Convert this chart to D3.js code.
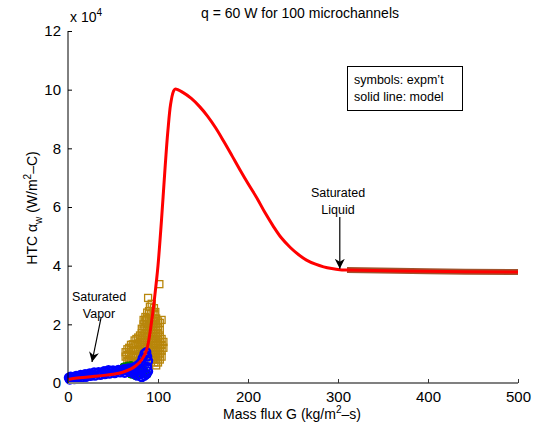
<!DOCTYPE html>
<html>
<head>
<meta charset="utf-8">
<script src="https://cdn.jsdelivr.net/npm/d3@7"></script>
<style>
body { margin: 0; background: #fff; }
svg { font-family: "Liberation Sans", Arial, sans-serif; }
</style>
</head>
<body>
<div id="chart"></div>
<script>
var width = 535,
    height = 435;

// model curve, G (kg/m2-s) and HTC (x 1e4 W/m2-C)
var modelG = [0, 10, 20, 30, 40, 50, 60, 70, 75, 80, 85, 88, 90, 92, 94, 96, 98, 100, 104, 108, 111, 114, 117, 119, 128, 137, 146, 155, 164, 173, 182, 191, 200, 210, 219, 228, 237, 247, 256, 265, 275, 284, 293, 302, 310, 400, 500];
var modelH = [0.12, 0.17, 0.2, 0.23, 0.26, 0.3, 0.36, 0.48, 0.58, 0.72, 0.95, 1.2, 1.5, 1.9, 2.35, 2.85, 3.4, 4.0, 5.6, 7.4, 8.6, 9.5, 9.93, 10.02, 9.9, 9.7, 9.43, 9.1, 8.7, 8.24, 7.76, 7.27, 6.8, 6.3, 5.8, 5.35, 4.95, 4.62, 4.38, 4.19, 4.05, 3.96, 3.9, 3.86, 3.85, 3.81, 3.78];

// saturated liquid experiments (dense, drawn as a band)
var liquidG = [310, 400, 500];
var liquidH = [3.85, 3.81, 3.78];

var blueG = [1, 2, 3, 4, 6, 7, 9, 10, 12, 14, 15, 17, 19, 20, 22, 24, 25, 27, 29, 30, 32, 34, 36, 38, 40, 41, 43, 45, 46, 48, 50, 52, 54, 56, 58, 60, 62, 63, 65, 67, 68, 70, 72, 73, 75, 76, 77, 78, 79, 80, 81, 82, 82, 83, 85, 85, 87, 87, 88, 88, 89, 89];
var blueH = [0.18, 0.12, 0.22, 0.15, 0.2, 0.13, 0.24, 0.17, 0.22, 0.28, 0.18, 0.25, 0.3, 0.21, 0.27, 0.33, 0.24, 0.3, 0.36, 0.25, 0.32, 0.37, 0.28, 0.35, 0.4, 0.3, 0.38, 0.44, 0.32, 0.4, 0.43, 0.34, 0.41, 0.45, 0.36, 0.42, 0.47, 0.35, 0.44, 0.5, 0.38, 0.46, 0.52, 0.32, 0.55, 0.4, 0.25, 0.62, 0.45, 0.3, 0.7, 0.5, 0.2, 0.85, 1.0, 0.25, 1.05, 0.3, 0.9, 0.55, 0.75, 0.4];

var greenG = [62, 64, 66, 68, 70, 72, 74, 76, 78, 80, 82, 84, 86, 88, 70, 75];
var greenH = [0.55, 0.5, 0.58, 0.45, 0.6, 0.4, 0.55, 0.35, 0.48, 0.4, 0.3, 0.45, 0.35, 0.3, 0.3, 0.25];

// subcooled experiments, one list of HTC readings per G column
var brownCols = [64, 66, 68, 70, 72, 74, 76, 78, 80, 82, 84, 86, 88, 90, 92, 94, 96, 98, 100, 102, 104, 106];
var brownRows = [
    [0.9, 1.05],
    [0.75, 0.95, 1.15],
    [0.62, 0.8, 1.0, 1.2],
    [0.55, 0.77, 0.95, 1.13, 1.3],
    [0.5, 0.7, 0.92, 1.1, 1.32],
    [0.5, 0.72, 0.9, 1.12, 1.3, 1.45],
    [0.52, 0.7, 0.9, 1.1, 1.32, 1.5],
    [0.55, 0.75, 0.97, 1.15, 1.35, 1.55],
    [0.6, 0.8, 1.0, 1.22, 1.4, 1.62],
    [0.7, 0.92, 1.1, 1.3, 1.52, 1.7, 1.85],
    [0.8, 1.0, 1.22, 1.4, 1.6, 1.82, 2.0, 2.15],
    [0.9, 1.1, 1.3, 1.52, 1.7, 1.9, 2.1, 2.25],
    [1.0, 1.2, 1.42, 1.6, 1.8, 2.02, 2.2, 2.4],
    [1.0, 1.22, 1.4, 1.6, 1.82, 2.0, 2.2, 2.45],
    [0.9, 1.1, 1.3, 1.5, 1.72, 1.9, 2.1, 2.35],
    [0.8, 1.0, 1.2, 1.42, 1.6, 1.8, 2.02, 2.2, 2.4],
    [0.7, 0.9, 1.12, 1.3, 1.5, 1.7, 1.92, 2.1, 2.35],
    [0.6, 0.8, 1.0, 1.2, 1.42, 1.6, 1.8, 2.0, 2.2],
    [0.7, 0.9, 1.1, 1.32, 1.5, 1.7, 1.9, 2.1],
    [0.8, 1.0, 1.2, 1.4, 1.62, 1.8, 2.05],
    [0.9, 1.1, 1.3, 1.5],
    [1.2, 1.4]
];
var brownOutG = [101.5, 89, 91, 97, 104, 87, 93, 95.5];
var brownOutH = [3.37, 2.9, 2.6, 2.42, 2.15, 2.15, 2.7, 2.55];

var xTicks = [0, 100, 200, 300, 400, 500],
    yTicks = [0, 2, 4, 6, 8, 10, 12];

var margin = {top: 31, right: 17, bottom: 52, left: 68};

var svg = d3.select("#chart").append("svg")
    .attr("width", width)
    .attr("height", height);

var x = d3.scaleLinear().domain([0, 500]).range([margin.left, width - margin.right]);
var y = d3.scaleLinear().domain([0, 12]).range([height - margin.bottom, margin.top]);

function zip(a, b) { return a.map(function(d, i) { return [d, b[i]]; }); }

var line = d3.line()
    .x(function(d) { return x(d[0]); })
    .y(function(d) { return y(d[1]); })
    .curve(d3.curveCatmullRom.alpha(0.5));

svg.append("defs").append("marker")
    .attr("id", "head")
    .attr("viewBox", "0 0 10 10")
    .attr("refX", 10).attr("refY", 5)
    .attr("markerWidth", 10).attr("markerHeight", 10)
    .attr("markerUnits", "userSpaceOnUse")
    .attr("orient", "auto")
  .append("path")
    .attr("d", "M0,0 L10,5 L0,10 L3,5 Z")
    .attr("fill", "#000");

// experiments
var brownPts = [];
brownCols.forEach(function(g, i) {
    brownRows[i].forEach(function(h) { brownPts.push([g, h]); });
});
brownPts = brownPts.concat(zip(brownOutG, brownOutH));

svg.append("g").selectAll("rect")
    .data(brownPts)
    .enter().append("rect")
    .attr("x", function(d) { return x(d[0]) - 3.5; })
    .attr("y", function(d) { return y(d[1]) - 3.5; })
    .attr("width", 7).attr("height", 7)
    .attr("fill", "none")
    .attr("stroke", "#b8860b")
    .attr("stroke-width", 1.3);

svg.append("g").selectAll("circle")
    .data(zip(greenG, greenH))
    .enter().append("circle")
    .attr("cx", function(d) { return x(d[0]); })
    .attr("cy", function(d) { return y(d[1]); })
    .attr("r", 4)
    .attr("fill", "#008000")
    .attr("stroke", "#008000");

svg.append("g").selectAll("circle")
    .data(zip(blueG, blueH))
    .enter().append("circle")
    .attr("cx", function(d) { return x(d[0]); })
    .attr("cy", function(d) { return y(d[1]); })
    .attr("r", 4)
    .attr("fill", "none")
    .attr("stroke", "#0000ff")
    .attr("stroke-width", 2.3);

svg.append("path")
    .datum(zip(liquidG, liquidH))
    .attr("d", line)
    .attr("fill", "none")
    .attr("stroke", "#a0522d")
    .attr("stroke-width", 6);

// model
svg.append("path")
    .datum(zip(modelG, modelH))
    .attr("d", line)
    .attr("fill", "none")
    .attr("stroke", "#ff0000")
    .attr("stroke-width", 3);

// axes
var yAxis = svg.append("g")
    .attr("transform", "translate(" + margin.left + ",0)")
    .call(d3.axisLeft(y).tickValues(yTicks).tickSize(-4).tickPadding(7));
yAxis.select(".domain").attr("d", "M0," + y(12) + "V" + y(0)).attr("stroke", "#000");
yAxis.selectAll("text").attr("font-size", 15).attr("font-family", "Liberation Sans, Arial, sans-serif").attr("fill", "#000");

var xAxis = svg.append("g")
    .attr("transform", "translate(0," + y(0) + ")")
    .call(d3.axisBottom(x).tickValues(xTicks).tickSize(-4).tickPadding(8));
xAxis.select(".domain").attr("d", "M" + x(0) + ",0H" + x(500)).attr("stroke", "#808080").attr("stroke-width", 2);
xAxis.selectAll("line").attr("stroke", "#333");
xAxis.selectAll("text").attr("font-size", 15).attr("font-family", "Liberation Sans, Arial, sans-serif").attr("fill", "#000");

// exponent
var ex = svg.append("text").attr("x", 70).attr("y", 22).attr("font-size", 14);
ex.append("tspan").text("x 10");
ex.append("tspan").attr("dy", -6).attr("font-size", 10).text("4");

// title
svg.append("text")
    .attr("x", 300).attr("y", 18)
    .attr("text-anchor", "middle")
    .attr("font-size", 14)
    .text("q = 60 W for 100 microchannels");

// axis labels
var xl = svg.append("text")
    .attr("x", 292).attr("y", 419)
    .attr("text-anchor", "middle")
    .attr("font-size", 14);
xl.append("tspan").text("Mass flux G (kg/m");
xl.append("tspan").attr("dy", -6).attr("font-size", 10).text("2");
xl.append("tspan").attr("dy", 6).text("\u2013s)");

var yl = svg.append("text")
    .attr("transform", "translate(37,208) rotate(-90)")
    .attr("text-anchor", "middle")
    .attr("font-size", 14);
yl.append("tspan").text("HTC  \u03b1");
yl.append("tspan").attr("dy", 5).attr("font-size", 10).text("w");
yl.append("tspan").attr("dy", -5).text(" (W/m");
yl.append("tspan").attr("dy", -6).attr("font-size", 10).text("2");
yl.append("tspan").attr("dy", 6).text("\u2013C)");

// legend box
svg.append("rect")
    .attr("x", 347.5).attr("y", 66.5)
    .attr("width", 115).attr("height", 44)
    .attr("fill", "#fff").attr("stroke", "#000");
svg.append("text").attr("x", 354).attr("y", 84).attr("font-size", 12.5).text("symbols: expm\u2019t");
svg.append("text").attr("x", 354).attr("y", 101).attr("font-size", 12.5).text("solid line: model");

// annotations
function note(cx, cy, lines) {
    lines.forEach(function(t, i) {
        svg.append("text").attr("x", cx).attr("y", cy + i * 17)
            .attr("text-anchor", "middle").attr("font-size", 12.5).text(t);
    });
}
note(338, 197, ["Saturated", "Liquid"]);
svg.append("line")
    .attr("x1", x(302)).attr("y1", 217)
    .attr("x2", x(302)).attr("y2", y(3.86) - 1)
    .attr("stroke", "#000").attr("stroke-width", 1.2)
    .attr("marker-end", "url(#head)");

note(99, 301, ["Saturated", "Vapor"]);
svg.append("line")
    .attr("x1", 101).attr("y1", 318)
    .attr("x2", 92).attr("y2", 362)
    .attr("stroke", "#000").attr("stroke-width", 1.2)
    .attr("marker-end", "url(#head)");
</script>
</body>
</html>
